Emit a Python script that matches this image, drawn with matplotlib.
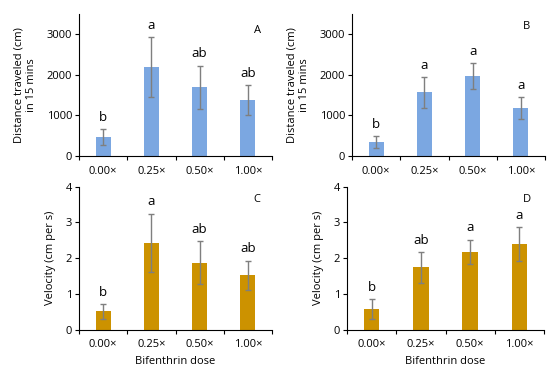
import matplotlib.pyplot as plt

plt.rcParams['font.family'] = ['Open Sans', 'DejaVu Sans']

doses = ["0.00×", "0.25×", "0.50×", "1.00×"]

# distance traveled (cm) in 15 mins
dist_A = [470, 2190, 1690, 1380]
dist_A_err = [190, 735, 540, 360]
dist_A_sig = ["b", "a", "ab", "ab"]

dist_B = [335, 1570, 1960, 1180]
dist_B_err = [150, 375, 320, 270]
dist_B_sig = ["b", "a", "a", "a"]

# velocity (cm per s)
vel_C = [0.51, 2.43, 1.87, 1.52]
vel_C_err = [0.20, 0.81, 0.60, 0.41]
vel_C_sig = ["b", "a", "ab", "ab"]

vel_D = [0.58, 1.74, 2.17, 2.40]
vel_D_err = [0.27, 0.43, 0.34, 0.47]
vel_D_sig = ["b", "ab", "a", "a"]

blue = "#7BA7E1"
gold = "#CC9200"

fig = plt.figure(figsize=(5.5, 3.73), dpi=100)


def panel(rect, vals, errs, sig, color, ylim, yticks, ylabel, tag, tagpos, xlabel=None):
    ax = fig.add_axes(rect)
    x = range(len(doses))
    ax.bar(x, vals, width=0.31, color=color, edgecolor="none", zorder=2)
    ax.errorbar(x, vals, yerr=errs, fmt="none", ecolor="#7F7F7F",
                elinewidth=1.0, capsize=2.5, capthick=1.0, zorder=3)
    for xi, v, e, s in zip(x, vals, errs, sig):
        ax.annotate(s, (xi, v + e), xytext=(0, 4), textcoords="offset points",
                    ha="center", va="bottom", fontsize=9.5)
    ax.set_xlim(-0.5, 3.5)
    ax.set_ylim(*ylim)
    ax.set_yticks(yticks)
    ax.set_xticks([-0.5, 0.5, 1.5, 2.5, 3.5])
    ax.set_xticklabels([])
    ax.set_xticks(list(x), minor=True)
    ax.set_xticklabels(doses, minor=True)
    ax.tick_params(axis="x", which="minor", length=0, pad=7, labelsize=8)
    ax.tick_params(axis="x", which="major", length=3, direction="out", width=0.8)
    ax.tick_params(axis="y", length=3, width=0.8, labelsize=8, pad=2)
    for sp in ["top", "right"]:
        ax.spines[sp].set_visible(False)
    for sp in ["left", "bottom"]:
        ax.spines[sp].set_linewidth(0.8)
    ax.set_ylabel(ylabel, fontsize=8, labelpad=7)
    if xlabel:
        ax.set_xlabel(xlabel, fontsize=8, labelpad=4)
    ax.text(tagpos[0], tagpos[1], tag, transform=ax.transAxes, fontsize=8,
            ha="center", va="center")
    return ax


dist_label = "Distance traveled (cm)\nin 15 mins"
vel_label = "Velocity (cm per s)"

panel([0.1436, 0.5818, 0.351, 0.3807], dist_A, dist_A_err, dist_A_sig, blue,
      (0, 3500), [0, 1000, 2000, 3000], dist_label, "A", (0.927, 0.887))
panel([0.640, 0.5818, 0.351, 0.3807], dist_B, dist_B_err, dist_B_sig, blue,
      (0, 3500), [0, 1000, 2000, 3000], dist_label, "B", (0.905, 0.915))
panel([0.1436, 0.1161, 0.351, 0.3834], vel_C, vel_C_err, vel_C_sig, gold,
      (0, 4), [0, 1, 2, 3, 4], vel_label, "C", (0.92, 0.907), "Bifenthrin dose")
panel([0.631, 0.1161, 0.358, 0.3834], vel_D, vel_D_err, vel_D_sig, gold,
      (0, 4), [0, 1, 2, 3, 4], vel_label, "D", (0.912, 0.907), "Bifenthrin dose")

fig.savefig("out.png", dpi=100)
